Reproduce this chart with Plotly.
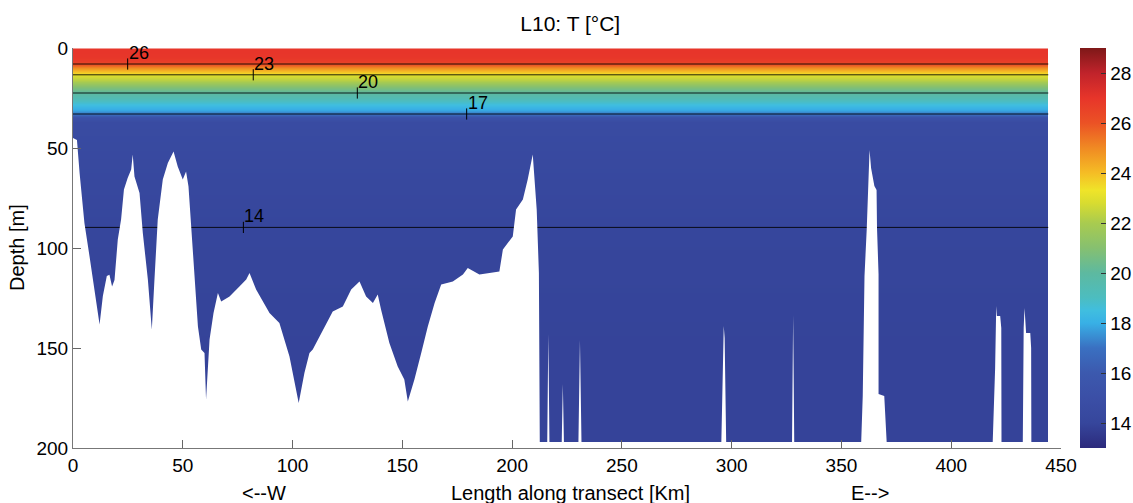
import plotly.graph_objects as go

# ---------------- data ----------------
# Temperature profile (uniform along the transect), depth [m] -> T [degC]
profile_depth = [1.5, 4, 6.5, 8, 9.5, 11, 12.5, 13.4, 16, 19, 22.4, 25, 28, 31, 33, 34.5, 37, 50, 90, 150, 197]
profile_temp = [27.0, 26.95, 26.7, 26.0, 25.0, 24.2, 23.5, 23.0, 22.2, 21.0, 20.0, 19.3, 18.5, 17.8, 16.8, 15.2, 14.6, 14.4, 14.0, 13.9, 13.9]

# Along-transect extent of the section [km] (cell edges)
section_edges_km = [0, 222.1, 444.2]

# Sea-floor depth along the transect
bathy_km = [0, 1.8, 3.0, 5.2, 7.5, 9.8, 12.1, 13.6, 15.4, 16.6, 17.8, 18.9, 20.4, 21.9, 23.2, 24.9,
            26.5, 27.2, 28.0, 30.3, 31.8, 34.1, 35.9, 37.1, 38.6, 40.9, 43.2, 45.8, 47.7, 50.0, 51.5,
            52.6, 53.8, 55.3, 56.9, 58.4, 59.9, 60.6, 62.2, 64.0, 66.0, 67.5, 71.3, 75.8, 78.9, 80.4,
            83.4, 89.5, 94.0, 98.6, 102.8, 105.4, 107.7, 109.2, 113.8, 118.3, 122.9, 126.7, 130.5,
            133.5, 136.6, 138.8, 140.3, 144.1, 147.9, 150.9, 152.5, 155.5, 158.6, 161.6, 164.7, 167.7,
            173.0, 177.6, 179.8, 185.1, 189.7, 194.2, 195.8, 200.3, 201.8, 204.9, 207.1, 209.4, 211.2,
            212.2, 212.6,
            216.0, 216.5, 217.0,
            222.6, 223.1, 223.6,
            230.2, 230.9, 231.6,
            295.3, 296.0, 296.4, 296.8, 297.5,
            327.5, 328.0, 328.5,
            359.0, 359.7, 360.5, 361.5, 362.2, 362.8, 363.5, 364.4, 365.0, 366.0, 366.2, 366.9, 366.9,
            369.5, 370.6,
            418.9, 420.0, 420.5, 420.8, 422.3, 422.8, 422.9,
            432.6, 433.0, 433.4, 434.1, 436.0, 436.4, 436.5,
            444.2]
bathy_depth = [45, 46, 62.5, 87.5, 104, 120.8, 138.3, 124, 114, 113.4, 119.2, 116, 95.8, 85.8, 70.8, 65,
               60.8, 53.3, 64.2, 72.5, 92.5, 115.8, 140.8, 115.8, 85.8, 65.8, 57.5, 51.7, 59.2, 65.8, 61.7,
               69.2, 87.5, 112.5, 139.2, 150.8, 152.5, 175.8, 145.8, 132.5, 122.5, 126.7, 124.2, 119.2, 115.8, 112.5,
               120.8, 132.5, 137.5, 154.2, 177.5, 162.5, 152.5, 150.8, 140.8, 131.7, 129.2, 120.8, 116.7,
               124.2, 127.5, 123.3, 130.8, 147.5, 159.2, 165.8, 176.7, 165.8, 152.5, 139.2, 127.5, 118.3,
               116.7, 113.3, 110, 113.3, 112.5, 111.7, 100.8, 94.2, 80.8, 75.8, 65.8, 53.3, 80.8,
               112.5, 197,
               197, 143, 197,
               197, 168, 197,
               197, 146, 197,
               197, 145, 139, 145, 197,
               197, 133.5, 197,
               197, 174, 114, 91, 70, 51, 60, 66, 69, 71, 90, 113, 173,
               174, 197,
               197, 160, 129, 134, 134, 140, 197,
               197, 140, 130, 142.5, 142.5, 150, 197,
               197]

# Labelled isotherms: level, depth [m], label position [km]
contour_levels = [26, 23, 20, 17, 14]
contour_depths = [8.0, 13.4, 22.5, 33.0, 89.7]
label_km = [24.9, 82.1, 129.5, 179.3, 77.6]

x_ticks = [0, 50, 100, 150, 200, 250, 300, 350, 400, 450]
y_ticks = [0, 50, 100, 150, 200]
cbar_ticks = [14, 16, 18, 20, 22, 24, 26, 28]

# ---------------- styling ----------------
FONT = "Liberation Sans, Arial, Helvetica, sans-serif"
T_MIN, T_MAX = 13.0, 29.0
stops = [
    (13.0, "#2c2a7c"), (14.0, "#36469c"), (15.0, "#3b4fa6"), (16.0, "#3c59ae"),
    (17.0, "#3a70c1"), (18.0, "#38b0e6"), (18.5, "#40bedf"), (19.0, "#4cbdc0"),
    (20.0, "#5db9a0"), (21.0, "#86c070"), (22.0, "#a9cb4f"), (22.8, "#d8dc30"),
    (23.3, "#efe429"), (24.0, "#f5bd25"), (25.0, "#f08a23"), (26.0, "#eb5225"),
    (27.0, "#e7352a"), (28.0, "#c0232b"), (29.0, "#7e1818"),
]
colorscale = [[(t - T_MIN) / (T_MAX - T_MIN), c] for t, c in stops]

fig = go.Figure()

z = [[t] * (len(section_edges_km) - 1) for t in profile_temp]
fig.add_trace(go.Heatmap(
    x=section_edges_km, y=profile_depth, z=z,
    zmin=T_MIN, zmax=T_MAX, zsmooth="best", colorscale=colorscale,
    hoverinfo="skip",
    colorbar=dict(
        x=1.0192, xanchor="left", xpad=0, y=0.5, yanchor="middle", ypad=0,
        len=1.0, lenmode="fraction", thickness=26, thicknessmode="pixels",
        outlinewidth=0, tickvals=cbar_ticks, ticks="inside", ticklen=5,
        tickcolor="#333", tickfont=dict(family=FONT, size=19, color="black"),
    ),
))

# isotherm lines
for lev, d in zip(contour_levels, contour_depths):
    fig.add_trace(go.Scatter(
        x=[section_edges_km[0], section_edges_km[-1]], y=[d, d], mode="lines",
        line=dict(color="rgba(0,0,0,0.85)", width=1), hoverinfo="skip", showlegend=False,
    ))

# sea floor (white mask below the bottom)
fig.add_trace(go.Scatter(
    x=bathy_km + [bathy_km[-1], bathy_km[0]],
    y=bathy_depth + [205, 205],
    mode="lines", fill="toself", fillcolor="white",
    line=dict(width=0, color="white"), hoverinfo="skip", showlegend=False,
))

# label tick marks
fig.add_trace(go.Scatter(
    x=label_km, y=contour_depths, mode="markers",
    marker=dict(symbol="line-ns", size=8, line=dict(width=1, color="black")),
    hoverinfo="skip", showlegend=False,
))

annotations = []
for lev, d, xk in zip(contour_levels, contour_depths, label_km):
    annotations.append(dict(
        x=xk, y=d, xref="x", yref="y", text=str(lev), showarrow=False,
        xanchor="left", yanchor="middle", xshift=-1, yshift=11,
        font=dict(family=FONT, size=18, color="black"),
    ))

annotations += [
    dict(x=226.8, y=0, xref="x", yref="paper", yanchor="middle", yshift=-45,
         text="Length along transect [Km]", showarrow=False,
         font=dict(family=FONT, size=20, color="black")),
    dict(x=86.8, y=0, xref="x", yref="paper", yanchor="middle", yshift=-45,
         text="<--W", showarrow=False, font=dict(family=FONT, size=20, color="black")),
    dict(x=362.8, y=0, xref="x", yref="paper", yanchor="middle", yshift=-45,
         text="E-->", showarrow=False, font=dict(family=FONT, size=20, color="black")),
    dict(x=0, y=0.5, xref="paper", yref="paper", xanchor="center", yanchor="middle",
         xshift=-56, text="Depth [m]", textangle=-90, showarrow=False,
         font=dict(family=FONT, size=20, color="black")),
]

fig.update_layout(
    width=1133, height=503,
    margin=dict(l=73, r=72, t=48, b=55, autoexpand=False),
    paper_bgcolor="white", plot_bgcolor="white",
    font=dict(family=FONT, size=19, color="black"),
    title=dict(text="L10: T [°C]", x=0.5033, xref="paper", xanchor="center",
               y=1 - 24 / 503, yanchor="middle", font=dict(family=FONT, size=21, color="black")),
    annotations=annotations,
    showlegend=False,
    xaxis=dict(range=[0, 450], tickvals=x_ticks, ticks="inside", ticklen=8, tickcolor="#666",
               showline=True, linecolor="#777", linewidth=1, showgrid=False, zeroline=False,
               tickfont=dict(family=FONT, size=19, color="black")),
    yaxis=dict(range=[200, 0], tickvals=y_ticks, ticks="inside", ticklen=8, tickcolor="#666",
               showline=True, linecolor="#777", linewidth=1, showgrid=False, zeroline=False,
               tickfont=dict(family=FONT, size=19, color="black")),
)

fig.write_html("out.html")
